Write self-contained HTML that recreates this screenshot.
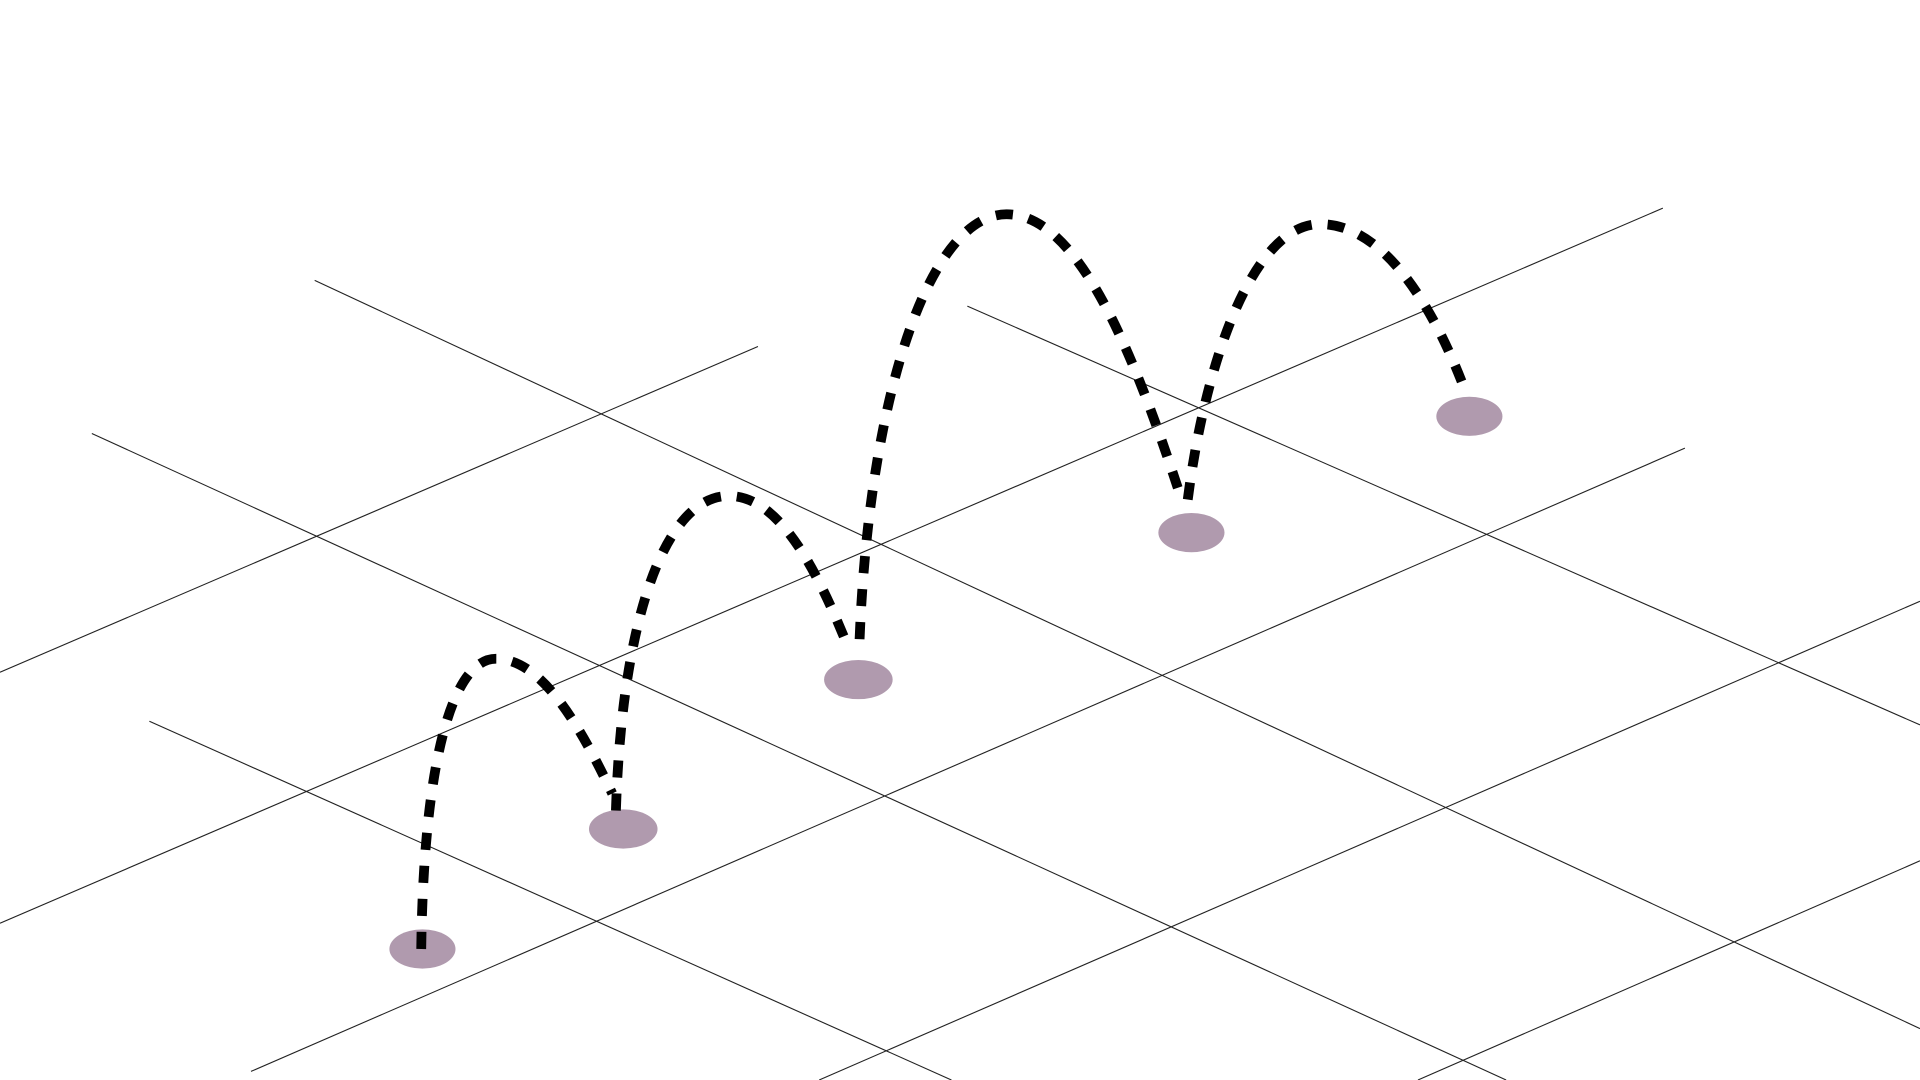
<!DOCTYPE html>
<html><head><style>html,body{margin:0;padding:0;background:#fff;width:1920px;height:1080px;overflow:hidden}</style></head>
<body>
<svg width="1920" height="1080" viewBox="0 0 1568 882" preserveAspectRatio="none" xmlns="http://www.w3.org/2000/svg">
<g stroke="#222" stroke-width="0.9" fill="none">
<line x1="257" y1="229" x2="1568" y2="840"/>
<line x1="75" y1="354" x2="1230" y2="882"/>
<line x1="122" y1="589" x2="777" y2="882"/>
<line x1="790" y1="250" x2="1568" y2="592"/>
<line x1="0" y1="549" x2="619" y2="283"/>
<line x1="0" y1="754" x2="1358" y2="170"/>
<line x1="205" y1="875" x2="1376" y2="366"/>
<line x1="669" y1="882" x2="1568" y2="491"/>
<line x1="1158" y1="882" x2="1568" y2="703"/>
</g>
<g fill="#b09aae">
<ellipse cx="345" cy="775" rx="27" ry="16"/>
<ellipse cx="509" cy="677" rx="28" ry="16"/>
<ellipse cx="701" cy="555" rx="28" ry="16"/>
<ellipse cx="973" cy="435" rx="27" ry="16"/>
<ellipse cx="1200" cy="340" rx="27" ry="16"/>
</g>
<g stroke="#000" stroke-width="8" fill="none" stroke-dasharray="14 13">
<path d="M344,775 C346,620 370,538 405,538 C440,538 470,585 500,648"/>
<path d="M503,662 C508,500 545,405 595,405 C635,405 665,460 692,527"/>
<path d="M702,522 C710,320 760,175 822,175 C880,175 925,285 965,408"/>
<path d="M970,408 C985,290 1025,183 1078,183 C1130,183 1170,250 1195,315"/>
</g>
</svg>
</body></html>
